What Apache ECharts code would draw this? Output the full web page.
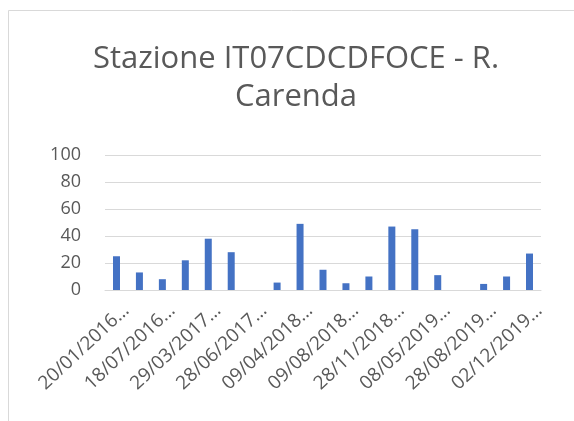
<!DOCTYPE html>
<html>
<head>
<meta charset="utf-8">
<script src="https://cdn.jsdelivr.net/npm/echarts@6/dist/echarts.min.js"></script>
<style>
html,body{margin:0;padding:0;background:#fff;}
#c{width:574px;height:421px;}
</style>
</head>
<body>
<div id="c"></div>
<script>
const titleText = "Stazione IT07CDCDFOCE - R.\nCarenda";
const categories = [
  "20/01/2016…", "", "18/07/2016…", "", "29/03/2017…", "", "28/06/2017…", "",
  "09/04/2018…", "", "09/08/2018…", "", "28/11/2018…", "", "08/05/2019…", "",
  "28/08/2019…", "", "02/12/2019…"
];
const values = [25, 13, 8, 22, 38, 28, 0, 5.5, 49, 15, 5, 10, 47, 45, 11, 0, 4.5, 10, 27];
const yTicks = { min: 0, max: 100, interval: 20 };

const chart = echarts.init(document.getElementById('c'), null, {renderer: 'canvas'});
chart.setOption({
  animation: false,
  backgroundColor: '#ffffff',
  graphic: [{
    type: 'rect', silent: true,
    shape: {x: 8.5, y: 10.5, width: 600, height: 500},
    style: {fill: 'none', stroke: '#d9d9d9', lineWidth: 1}
  }],
  title: {
    text: titleText,
    left: 291, top: 35, textAlign: 'center',
    textStyle: {fontFamily: 'Open Sans', fontSize: 31, fontWeight: 'normal', color: '#595959', lineHeight: 38}
  },
  grid: {left: 105, right: 33, top: 155, bottom: 131, containLabel: false},
  xAxis: {
    type: 'category',
    data: categories,
    axisLine: {show: true, lineStyle: {color: '#d9d9d9', width: 1}},
    axisTick: {show: false},
    axisLabel: {
      interval: 0, rotate: 43, margin: 7,
      verticalAlign: 'top',
      padding: [5, 0, 0, 0],
      fontFamily: 'Open Sans', fontSize: 19, color: '#595959'
    }
  },
  yAxis: {
    type: 'value',
    min: yTicks.min, max: yTicks.max, interval: yTicks.interval,
    axisLine: {show: false}, axisTick: {show: false},
    splitLine: {lineStyle: {color: '#d9d9d9', width: 1}},
    axisLabel: {fontFamily: 'Open Sans', fontSize: 18, color: '#595959', margin: 24}
  },
  series: [{
    type: 'bar',
    data: values,
    barWidth: 7,
    itemStyle: {color: '#4472C4'}
  }]
});
</script>
</body>
</html>
